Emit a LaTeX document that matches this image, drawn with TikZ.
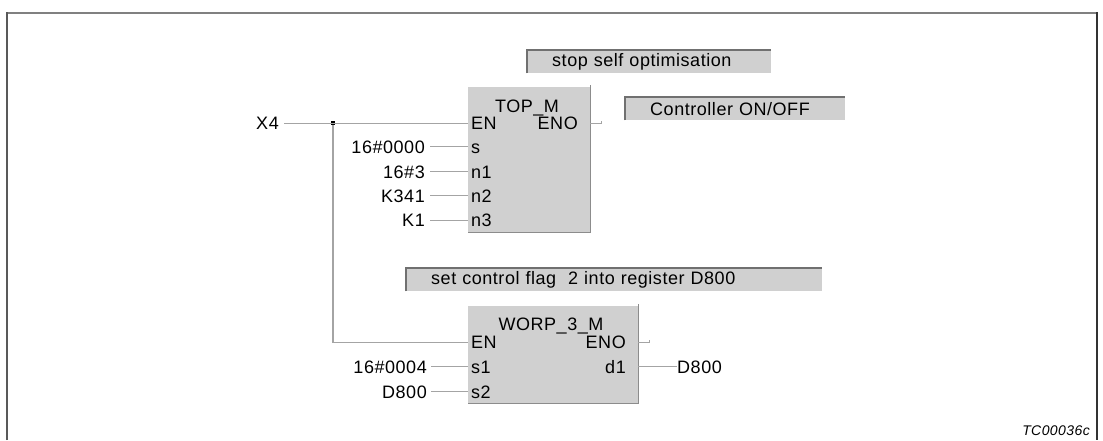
\documentclass[tikz,border=0pt]{standalone}
\usepackage{fontspec}
\setmainfont{Liberation Sans}[LetterSpace=3]
\usetikzlibrary{positioning}
\definecolor{fbgray}{HTML}{D0D0D0}
\definecolor{wiregray}{HTML}{A4A4A4}
\definecolor{edgegray}{HTML}{8C8C8C}

\begin{document}
\begin{tikzpicture}[
  x=1pt, y=-1pt,
  every node/.style={font=\fontsize{18}{20}\selectfont, inner sep=0pt},
  fblock/.style={fill=fbgray, anchor=north west},
  fbedge/.style={draw=edgegray, line width=1.2pt},
  note/.style={fill=fbgray, anchor=north west, inner xsep=25pt, minimum height=23pt, align=left},
  noteedge/.style={draw=edgegray!80!black, line width=1.2pt},
  wire/.style={draw=wiregray, line width=1.3pt},
  pinlbl/.style={anchor=base west},
  const/.style={anchor=base east},
]
\useasboundingbox (0,0) rectangle (1103,440);

% Frame
\draw[line width=2pt, gray] (7,13) -- (1097,13);
\draw[line width=2pt, black!65] (7,440) -- (7,12);
\draw[line width=1.5pt, black!80] (1097,12) -- (1097,440);

% Comments
\node[note, text width=194pt] (cmt-opt) at (527,50) {stop self optimisation};
\node[note, text width=170pt] (cmt-ctrl) at (625,97) {Controller ON/OFF};
\node[note, text width=366pt] (cmt-flag) at (406,268) {set control flag \ 2 into register D800};
\foreach \n in {cmt-opt,cmt-ctrl,cmt-flag}
  \draw[noteedge] (\n.south west) -- (\n.north west) -- (\n.north east);

% TOP_M block
\node[fblock, minimum width=122pt, minimum height=145pt] (top) at (468,87) {};
\draw[fbedge] ([yshift=2pt]top.north east) -- (top.south east) -- (top.south west);
\node[anchor=base] (top-name) at (527,112) {TOP\_M};
\node[pinlbl] (top-en) at (471,129.5) {EN};
\node[anchor=base east] (top-eno) at (578,129.5) {ENO};
\foreach \p/\c/\y in {s/16\#0000/153, n1/16\#3/178, n2/K341/202, n3/K1/226.5} {
  \node[pinlbl] (top-\p) at (471,\y) {\p};
  \node[const] (in-\p) at (425,\y) {\c};
  \draw[wire] ([xshift=5pt]in-\p.east) -- (in-\p.east -| top.west);
}

% WORP_3_M block
\node[fblock, minimum width=170pt, minimum height=97pt] (wp) at (468,306) {};
\draw[fbedge] ([yshift=2pt]wp.north east) -- (wp.south east) -- (wp.south west);
\node[anchor=base] (wp-name) at (551,330) {WORP\_3\_M};
\node[pinlbl] (wp-en) at (471,348.5) {EN};
\node[anchor=base east] (wp-eno) at (626,348.5) {ENO};
\node[anchor=base east] (wp-d1) at (626,373) {d1};
\foreach \p/\c/\y in {s1/16\#0004/373, s2/D800/398} {
  \node[pinlbl] (wp-\p) at (471,\y) {\p};
  \node[const] (in-\p) at (427,\y) {\c};
  \draw[wire] ([xshift=4pt]in-\p.east) -- (in-\p.east -| wp.west);
}
\node[anchor=base west] (out-d1) at (677,373) {D800};

% Power flow
\node[const] (x4) at (279,129.5) {X4};
\node[fill=black, minimum size=3.5pt] (jct) at (333,123) {};
\draw[wire] ([xshift=5pt]x4.east) -- (x4.east -| top.west);
\draw[wire] (jct) |- (wp.west |- wp-en);
\draw[wire] (top.east |- top-eno) -- ++(11,0) -- ++(0,-2);
\draw[wire] (wp.east |- wp-eno) -- ++(11,0) -- ++(0,-2);
\draw[wire] (wp.east |- out-d1) -- (out-d1.west);

\node[font=\fontsize{14}{16}\selectfont\itshape, anchor=base east] (figid) at (1090,435) {TC00036c};
\end{tikzpicture}
\end{document}
